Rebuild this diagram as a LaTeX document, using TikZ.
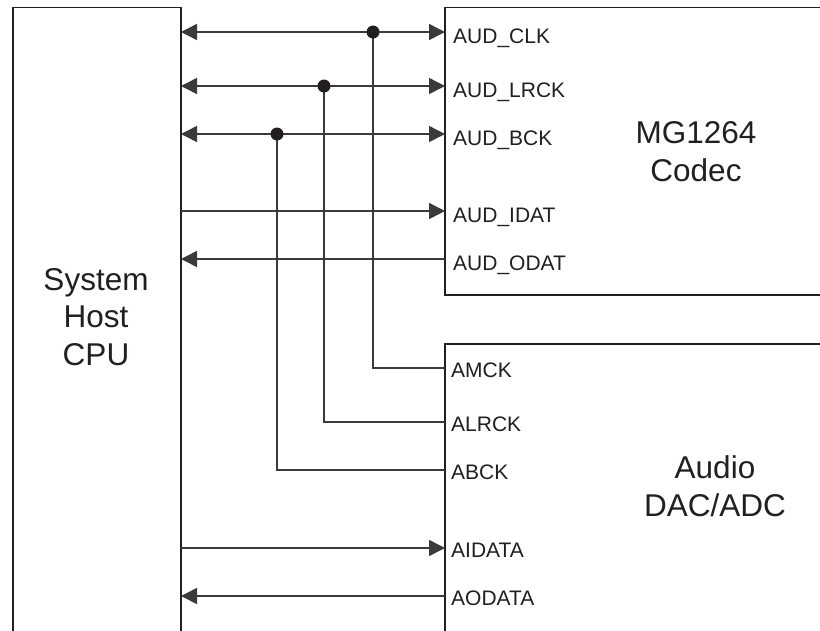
\documentclass[tikz,border=0pt]{standalone}
\usepackage{fontspec}
\setmainfont{Liberation Sans}
\usetikzlibrary{arrows.meta}
\definecolor{ink}{HTML}{231F20}
\definecolor{wirec}{HTML}{3A3A3A}
\begin{document}
\begin{tikzpicture}[x=1pt,y=-1pt,
  wire/.style={draw=wirec, line width=1.5pt},
  box/.style={draw=ink, line width=1.6pt},
  tipr/.style={-{Triangle[length=16pt,width=16pt]}},
  tipl/.style={{Triangle[length=16pt,width=16pt]}-},
  tipb/.style={{Triangle[length=16pt,width=16pt]}-{Triangle[length=16pt,width=16pt]}},
  junc/.style={fill=ink},
  pin/.style={anchor=base west, inner sep=0pt, text=ink, font=\fontsize{21}{25}\selectfont},
  title/.style={anchor=base, inner sep=0pt, text=ink, align=center, font=\fontsize{31.5}{37.5}\selectfont}
]
\useasboundingbox (0,0) rectangle (820,630);
\fill[white] (0,0) rectangle (820,630);

% boxes (open at the picture edges)
\draw[box] (13,640) -- (13,7.5) -- (181,7.5) -- (181,640);
\draw[box] (830,7.5) -- (445,7.5) -- (445,295) -- (830,295);
\draw[box] (830,344) -- (445,344) -- (445,640);

% pin coordinates on the CPU side
\coordinate (hclk) at (181,32);
\coordinate (hlrck) at (181,86);
\coordinate (hbck) at (181,134);
\coordinate (hidat) at (181,211);
\coordinate (hodat) at (181,259);
\coordinate (hidata) at (181,548);
\coordinate (hodata) at (181,596);
% codec pins
\coordinate (cclk) at (445,32);
\coordinate (clrck) at (445,86);
\coordinate (cbck) at (445,134);
\coordinate (cidat) at (445,211);
\coordinate (codat) at (445,259);
% dac pins
\coordinate (amck) at (445,368);
\coordinate (alrck) at (445,422);
\coordinate (abck) at (445,470);
\coordinate (aidata) at (445,548);
\coordinate (aodata) at (445,596);
% junctions
\coordinate (jclk) at (373,32);
\coordinate (jlrck) at (324,86);
\coordinate (jbck) at (277,134);

% connectors
\draw[wire, tipb] (hclk) -- (cclk);
\draw[wire, tipb] (hlrck) -- (clrck);
\draw[wire, tipb] (hbck) -- (cbck);
\draw[wire, tipr] (hidat) -- (cidat);
\draw[wire, tipl] (hodat) -- (codat);
\draw[wire] (jclk) |- (amck);
\draw[wire] (jlrck) |- (alrck);
\draw[wire] (jbck) |- (abck);
\draw[wire, tipr] (hidata) -- (aidata);
\draw[wire, tipl] (hodata) -- (aodata);
\fill[junc] (jclk) circle (6.5);
\fill[junc] (jlrck) circle (6.5);
\fill[junc] (jbck) circle (6.5);

% pin labels
\node[pin] (lclk) at (453,43) {AUD\_CLK};
\node[pin] (llrck) at (453,97) {AUD\_LRCK};
\node[pin] (lbck) at (453,145) {AUD\_BCK};
\node[pin] (lidat) at (453,222) {AUD\_IDAT};
\node[pin] (lodat) at (453,270) {AUD\_ODAT};
\node[pin] (lmck) at (451,377) {AMCK};
\node[pin] (llr2) at (451,431) {ALRCK};
\node[pin] (lbc2) at (451,479) {ABCK};
\node[pin] (lidata) at (451,557) {AIDATA};
\node[pin] (lodata) at (451,605) {AODATA};

% block titles (base anchor = baseline of the last line)
\node[title] (cpu) at (96,365) {System\\Host\\CPU};
\node[title] (codec) at (696,181) {MG1264\\Codec};
\node[title] (dac) at (715,516) {Audio\\DAC/ADC};
\end{tikzpicture}
\end{document}
